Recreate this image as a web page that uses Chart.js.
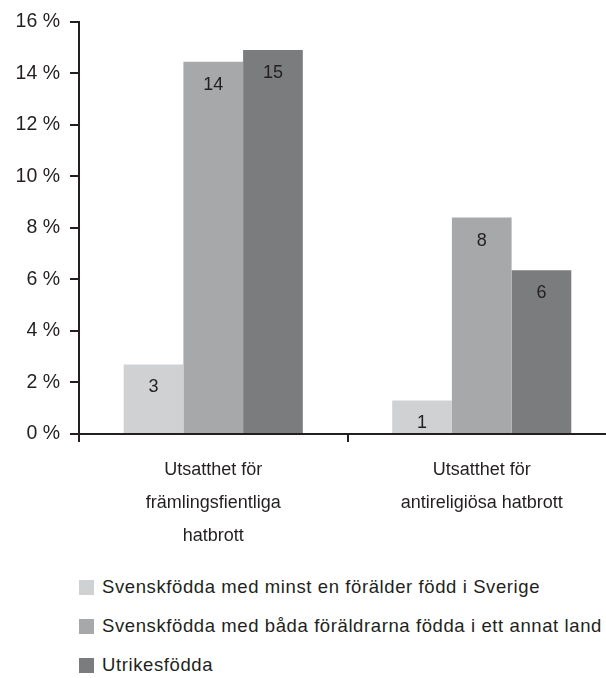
<!DOCTYPE html>
<html>
<head>
<meta charset="utf-8">
<script src="https://cdn.jsdelivr.net/npm/chart.js@4/dist/chart.umd.min.js"></script>
<style>
  html,body{margin:0;padding:0;background:#fff;overflow:hidden;width:606px;height:678px}
  #wrap{position:absolute;left:0;top:0;width:620px;height:554px}
  #legend{position:absolute;left:79px;top:568px;font-family:'Liberation Sans',Arial,sans-serif;font-size:18.5px;letter-spacing:0.6px;color:#231f20}
  .li{display:flex;align-items:center;height:38px;margin-bottom:1px;white-space:nowrap}
  .sw{width:15px;height:15px;margin-right:8px;flex:none}
</style>
</head>
<body>
<div id="wrap"><canvas id="c"></canvas></div>
<div id="legend"></div>
<script>
// ── Data ──────────────────────────────────────────────────────────────────────
const categories=[['Utsatthet för','främlingsfientliga','hatbrott'],['Utsatthet för','antireligiösa hatbrott']];
const seriesNames=['Svenskfödda med minst en förälder född i Sverige','Svenskfödda med båda föräldrarna födda i ett annat land','Utrikesfödda'];
const swedishBorn=[2.7,1.3];
const bothParentsAbroad=[14.45,8.4];
const foreignBorn=[14.9,6.35];
const barColors=['#d0d1d3','#a7a8aa','#7b7c7e'];
const yTicks=[0,2,4,6,8,10,12,14,16];

const FONT="'Liberation Sans',Arial,sans-serif", TXT='#231f20';

// value labels inside top of bars
const valPlug={id:'valPlug',afterDatasetsDraw(chart){
  const cx=chart.ctx;
  cx.save();
  cx.font='18px '+FONT; cx.fillStyle=TXT; cx.textAlign='center'; cx.textBaseline='middle';
  chart.data.datasets.forEach((ds,di)=>{
    chart.getDatasetMeta(di).data.forEach((bar,i)=>{
      cx.fillText(String(Math.round(ds.data[i])),bar.x,bar.y+23);
    });
  });
  cx.restore();
}};

const series=[swedishBorn,bothParentsAbroad,foreignBorn];
const chart=new Chart(document.getElementById('c'),{
  type:'bar',plugins:[valPlug],
  data:{labels:categories,datasets:series.map((d,i)=>({label:seriesNames[i],data:d,backgroundColor:barColors[i],borderWidth:0,barPercentage:1,categoryPercentage:0.667}))},
  options:{responsive:true,maintainAspectRatio:false,animation:false,
    layout:{padding:{top:20,right:4,left:0,bottom:0}},
    plugins:{legend:{display:false},tooltip:{enabled:false}},
    scales:{
      x:{grid:{display:true,drawOnChartArea:false,offset:true,color:'#231f20',lineWidth:2,tickLength:8},
         border:{display:true,color:'#231f20',width:2},
         ticks:{color:TXT,font:{family:FONT,size:18,lineHeight:1.85},padding:11,maxRotation:0,autoSkip:false},
         afterFit:s=>{s.height=120;}},
      y:{min:0,max:16,afterBuildTicks:s=>{s.ticks=yTicks.map(v=>({value:v}));},
         grid:{drawOnChartArea:false,color:'#231f20',lineWidth:2,tickLength:9},
         border:{display:true,color:'#231f20',width:2},
         ticks:{color:TXT,font:{family:FONT,size:19.5},padding:10,callback:v=>v+' %'},
         afterFit:s=>{s.width=79;}}
    }}
});

// HTML legend built from the datasets
document.getElementById('legend').innerHTML=chart.data.datasets.map(ds=>
  '<div class="li"><span class="sw" style="background:'+ds.backgroundColor+'"></span>'+ds.label+'</div>').join('');
</script>
</body>
</html>
